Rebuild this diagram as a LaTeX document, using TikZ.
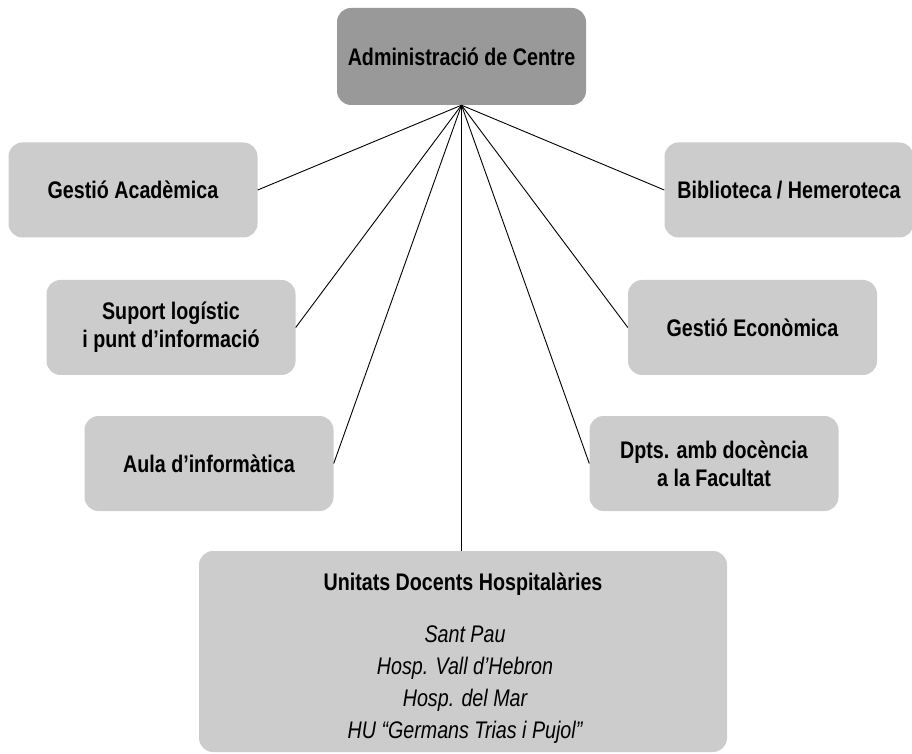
\documentclass[tikz,border=0pt]{standalone}
\usepackage{fontspec}
\setmainfont{Liberation Sans}[FakeStretch=0.82]
\definecolor{boxlight}{HTML}{CCCCCC}
\definecolor{boxdark}{HTML}{999999}
\begin{document}
\begin{tikzpicture}[x=1pt,y=1pt,
  unit/.style={fill=boxlight,draw=none,rounded corners=14pt,minimum width=249pt,minimum height=95pt,align=center,font=\fontsize{24}{28}\selectfont\bfseries,inner sep=0pt},
  conn/.style={draw=black,line width=0.9pt}]
\useasboundingbox (0,0) rectangle (912,753);
\node[unit,fill=boxdark,minimum height=97pt] (admin) at (461.5,696.5) {Administració de Centre};
\node[unit] (gacad) at (133,563) {Gestió Acadèmica};
\node[unit] (suport) at (171,425.5) {Suport logístic\\i punt d’informació};
\node[unit] (aula) at (209,289.5) {Aula d’informàtica};
\node[unit] (biblio) at (789,563) {Biblioteca / Hemeroteca};
\node[unit] (geco) at (752.5,425.5) {Gestió Econòmica};
\node[unit] (dpts) at (714,289.5) {Dpts. amb docència\\a la Facultat};
\node[unit,minimum width=528pt,minimum height=201pt] (udh) at (463,101.5) {};
\node[font=\fontsize{24}{28}\selectfont\bfseries] (udhtitle) at (463,169) {Unitats Docents Hospitalàries};
\node[font=\fontsize{24}{32}\selectfont\itshape,align=center,anchor=north] (udhlist) at (465,131) {Sant Pau\\Hosp. Vall d’Hebron\\Hosp. del Mar\\HU “Germans Trias i Pujol”};
\coordinate (hub) at (admin.south);
\draw[conn] (hub) -- (gacad.east);
\draw[conn] (hub) -- (suport.east);
\draw[conn] (hub) -- (aula.east);
\draw[conn] (hub) -- (biblio.west);
\draw[conn] (hub) -- (geco.west);
\draw[conn] (hub) -- (dpts.west);
\draw[conn] (hub) -- (hub |- udh.north);
\end{tikzpicture}
\end{document}
